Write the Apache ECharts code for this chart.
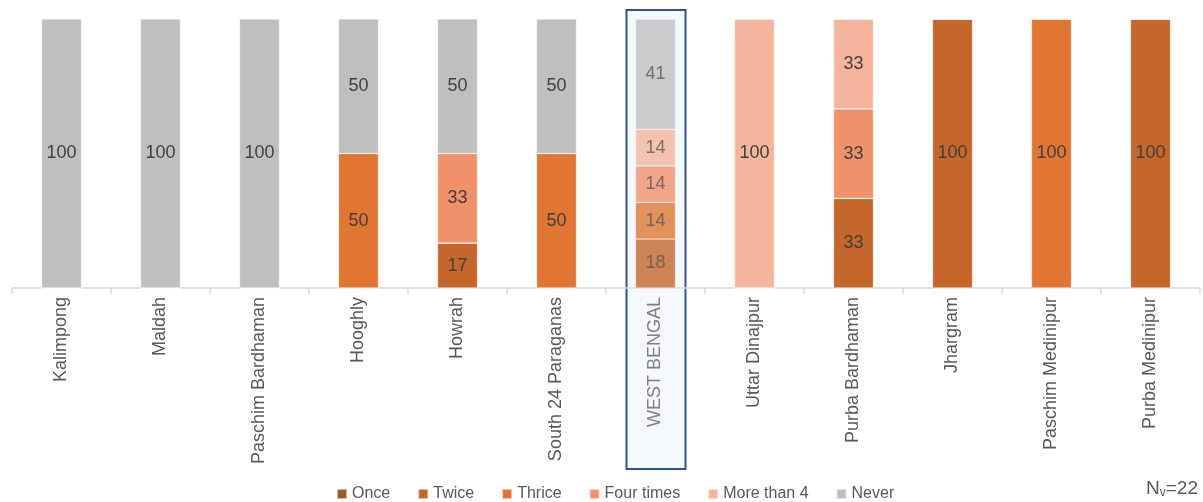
<!DOCTYPE html>
<html>
<head>
<meta charset="utf-8">
<script src="https://cdn.jsdelivr.net/npm/echarts@6/dist/echarts.min.js"></script>
<style>
  html, body { margin: 0; padding: 0; background: #fff; }
  #chart { width: 1203px; height: 502px; }
</style>
</head>
<body>
<div id="chart"></div>
<script>
const categories = ['Kalimpong', 'Maldah', 'Paschim Bardhaman', 'Hooghly', 'Howrah', 'South 24 Paraganas',
  'WEST BENGAL', 'Uttar Dinajpur', 'Purba Bardhaman', 'Jhargram', 'Paschim Medinipur', 'Purba Medinipur'];
const once = [0, 0, 0, 0, 0, 0, 0, 0, 0, 0, 0, 0];
const twice = [0, 0, 0, 0, 16.7, 0, 18.2, 0, 33.3, 100, 0, 100];
const thrice = [0, 0, 0, 50, 0, 50, 13.6, 0, 0, 0, 100, 0];
const fourTimes = [0, 0, 0, 0, 33.3, 0, 13.6, 0, 33.3, 0, 0, 0];
const moreThan4 = [0, 0, 0, 0, 0, 0, 13.6, 100, 33.3, 0, 0, 0];
const never = [100, 100, 100, 50, 50, 50, 40.9, 0, 0, 0, 0, 0];

const highlight = 'WEST BENGAL';
const chartBlock = document.getElementById('chart');
const font = 'Liberation Sans, Arial, sans-serif';

const makeSeries = (name, values, color) => ({
  name,
  type: 'bar',
  stack: 'total',
  barWidth: 40,
  itemStyle: { color, borderColor: 'rgba(255,255,255,0.6)', borderWidth: 0.6 },
  label: {
    show: true,
    position: 'inside',
    fontSize: 18,
    fontFamily: font,
    color: '#404040',
    formatter: (p) => (p.value > 0 ? Math.round(p.value) : ''),
  },
  data: values.map((v, i) => {
    if (categories[i] === highlight) {
      return { value: v, itemStyle: { opacity: 0.8 }, label: { color: '#595959' } };
    }
    return v;
  }),
});

const option = {
  animation: false,
  textStyle: { fontFamily: font },
  grid: { left: 12, right: 3, top: 19, bottom: 214 },
  legend: {
    top: 481,
    left: 331,
    icon: 'rect',
    itemWidth: 10,
    itemHeight: 10,
    itemGap: 27,
    textStyle: { fontSize: 16, color: '#595959' },
    data: ['Once', 'Twice', 'Thrice', 'Four times', 'More than 4', 'Never'],
  },
  xAxis: {
    type: 'category',
    data: categories,
    axisLine: { lineStyle: { color: '#D9D9D9', width: 1.5 } },
    axisTick: { show: true, length: 6, lineStyle: { color: '#D9D9D9', width: 1.5 } },
    axisLabel: {
      rotate: 90,
      fontSize: 18,
      color: '#595959',
      margin: 9,
      interval: 0,
      formatter: (v) => (v === highlight ? '{hl|' + v + '}' : v),
      rich: { hl: { fontSize: 18, color: '#808080' } },
    },
  },
  yAxis: {
    type: 'value',
    show: false,
    min: 0,
    max: 100,
  },
  series: [
    makeSeries('Once', once, '#A8561F'),
    makeSeries('Twice', twice, '#C5662A'),
    makeSeries('Thrice', thrice, '#E07632'),
    makeSeries('Four times', fourTimes, '#F0916A'),
    makeSeries('More than 4', moreThan4, '#F4B59C'),
    makeSeries('Never', never, '#BFBFBF'),
  ],
};

const chart = echarts.init(chartBlock);
chart.setOption(option);

// highlight frame around the state total column, plus N note
const cx = chart.convertToPixel({ xAxisIndex: 0 }, highlight);
chart.setOption({
  graphic: [
    {
      type: 'rect',
      z: -10,
      shape: { x: cx - 29, y: 10, width: 59, height: 459 },
      style: { fill: '#F5F8FC', stroke: '#2F5597', lineWidth: 2 },
    },
    {
      type: 'text',
      right: 5,
      bottom: 3,
      style: {
        text: 'N{sub|v}=22',
        fontSize: 19,
        fill: '#595959',
        fontFamily: font,
        rich: { sub: { fontSize: 12, fill: '#595959', padding: [9, 0, 0, 0] } },
      },
    },
  ],
});
</script>
</body>
</html>
